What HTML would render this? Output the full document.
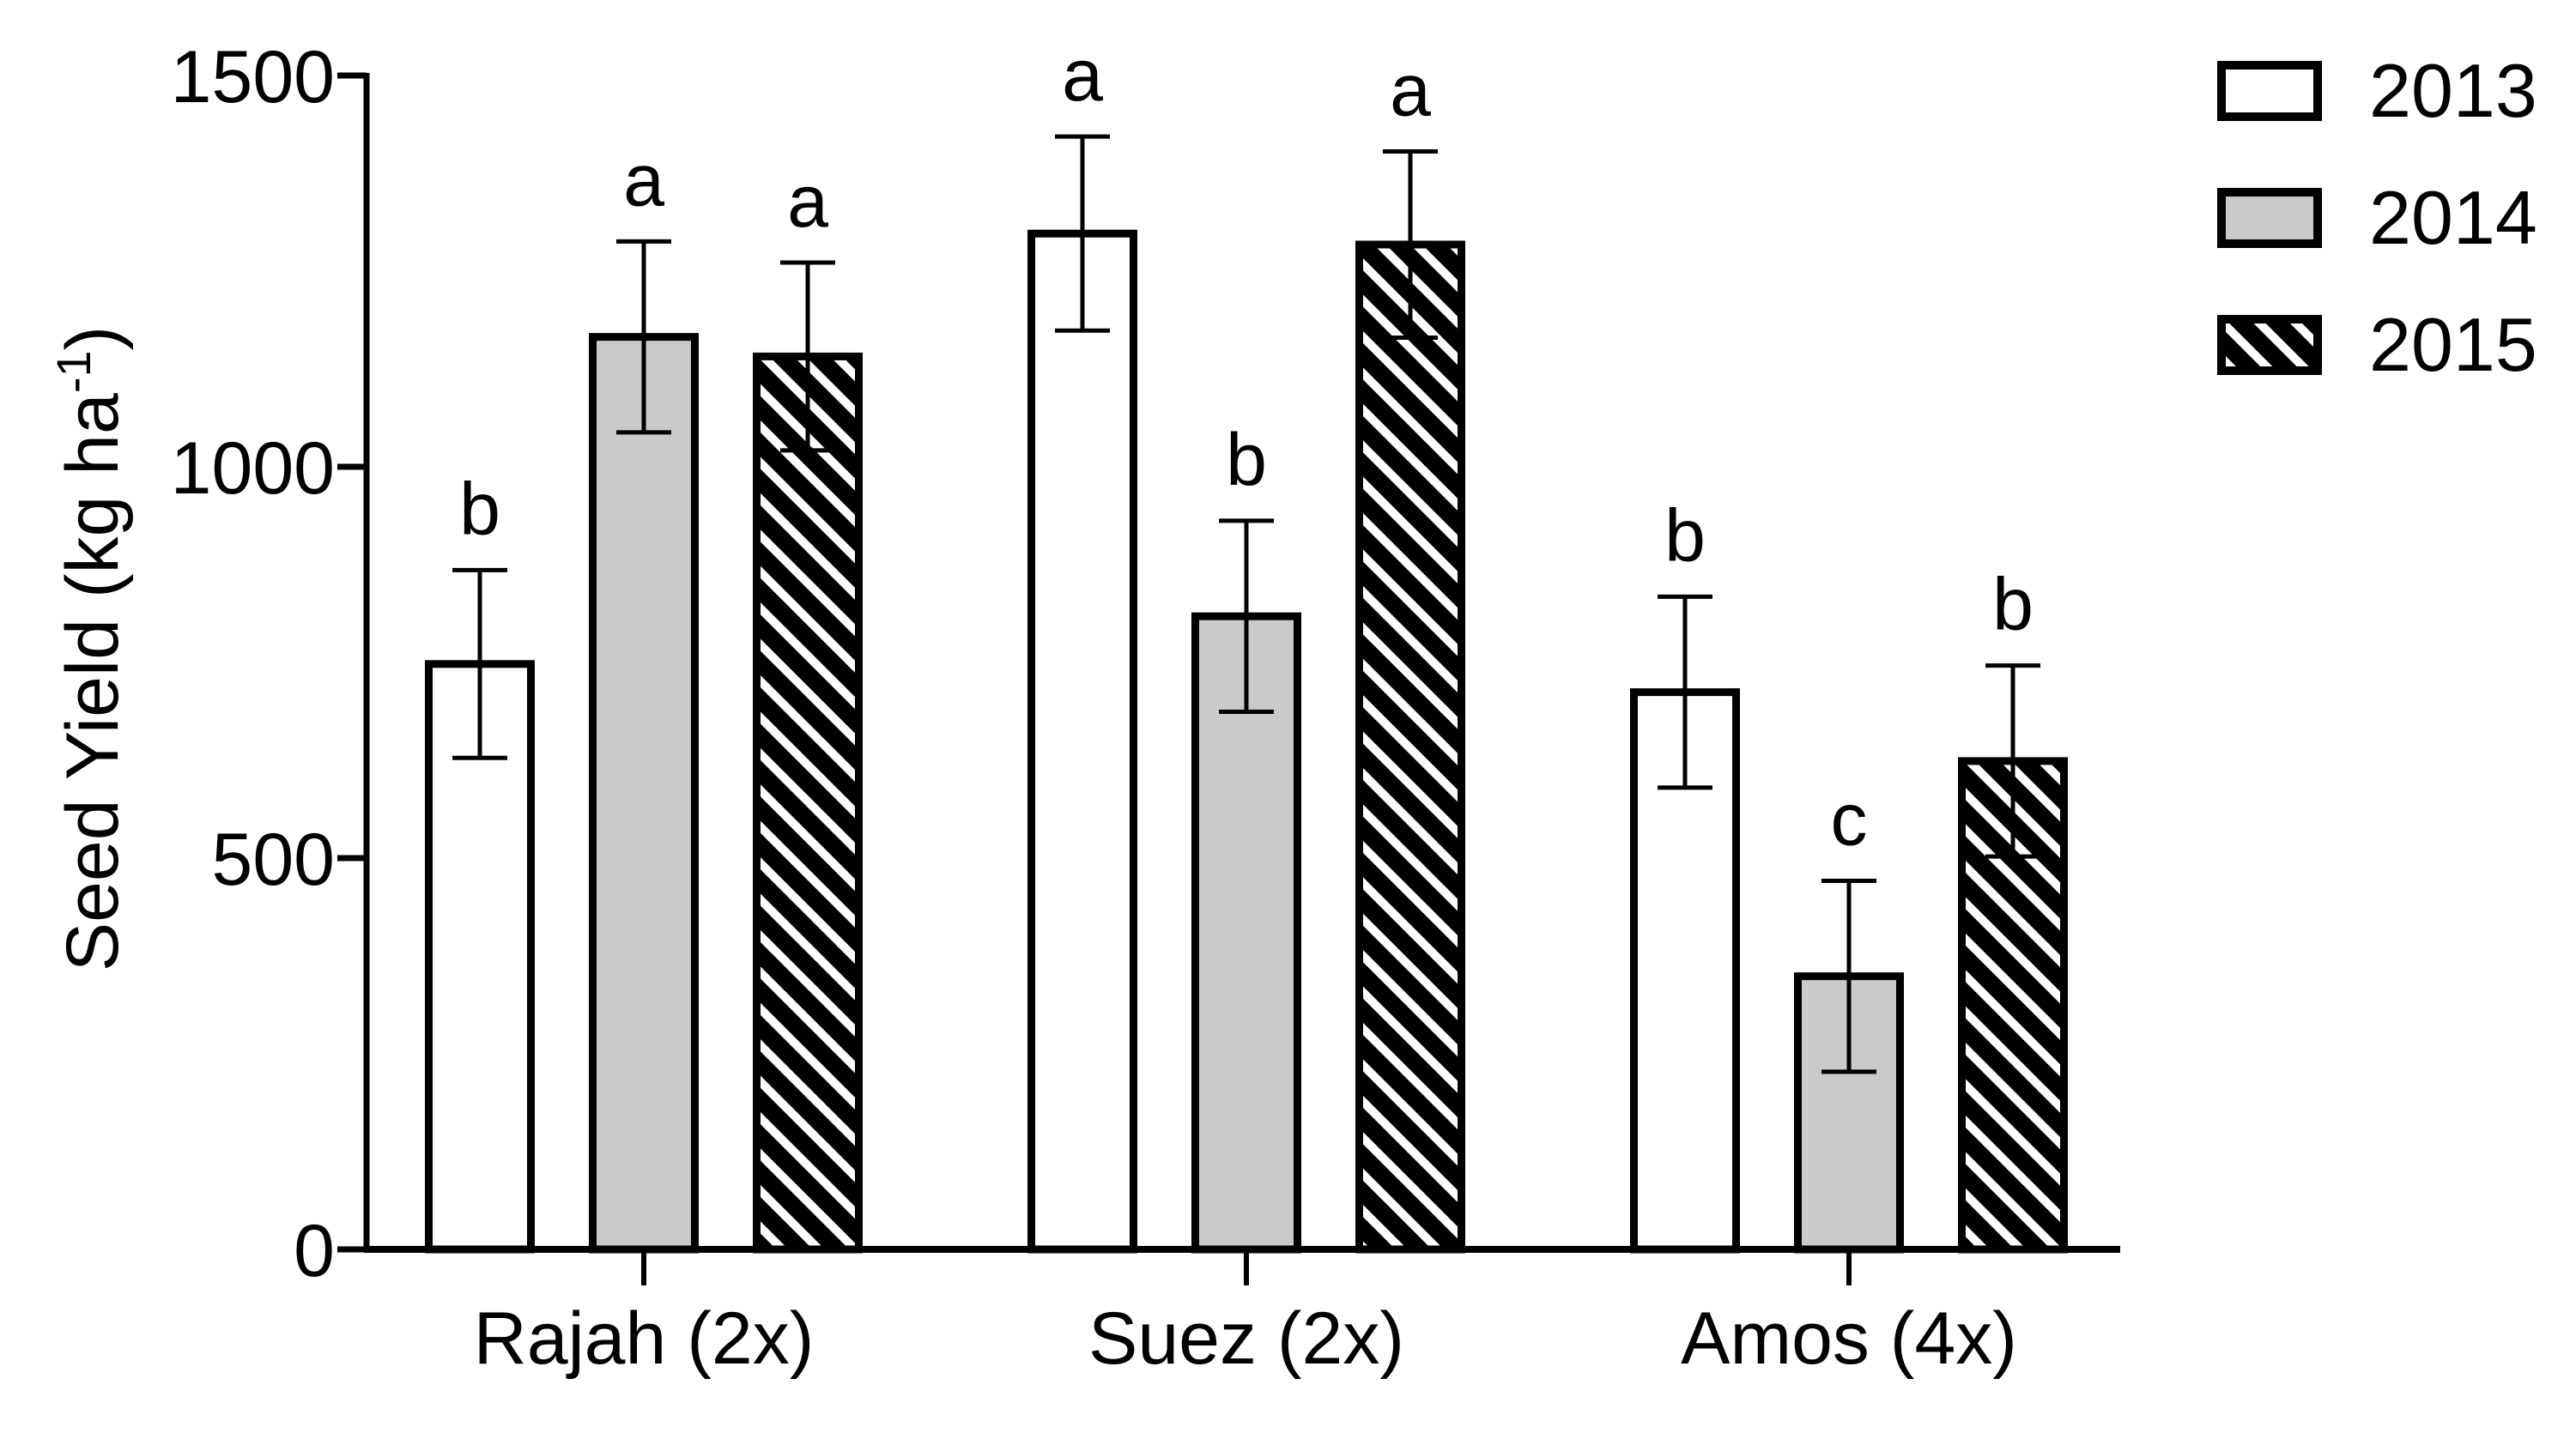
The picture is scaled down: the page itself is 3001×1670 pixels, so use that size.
<!DOCTYPE html>
<html><head><meta charset="utf-8"><style>
html,body{margin:0;padding:0;background:#fff;}
svg{display:block;font-family:"Liberation Sans",Arial,sans-serif;}
</style></head><body>
<svg id="chart" width="3001" height="1670" viewBox="0 0 3001 1670" xmlns="http://www.w3.org/2000/svg">
<defs>
<pattern id="hatch" patternUnits="userSpaceOnUse" width="30" height="30" patternTransform="rotate(-45)">
<rect width="30" height="30" fill="#000"/>
<rect x="0" y="0" width="10" height="30" fill="#fff"/>
</pattern>
</defs>
<g id="plot"></g>
<text transform="translate(137,756) rotate(-90)" text-anchor="middle" font-size="86">Seed Yield (kg ha<tspan font-size="56" dy="-32">-1</tspan><tspan dy="32">)</tspan></text>
</svg>
<script>
const categories = ["Rajah (2x)", "Suez (2x)", "Amos (4x)"];
const years = ["2013", "2014", "2015"];
const values2013 = [748, 1298, 712];
const values2014 = [1166, 809, 349];
const values2015 = [1141, 1284, 624];
const errors2013 = [120, 124, 122];
const errors2014 = [122, 122, 122];
const errors2015 = [120, 119, 122];
const letters2013 = ["b", "a", "b"];
const letters2014 = ["a", "b", "c"];
const letters2015 = ["a", "a", "b"];
const yTicks = [0, 500, 1000, 1500];

const NS = "http://www.w3.org/2000/svg";
const g = document.getElementById('plot');
const x0 = 427, xEnd = 2470, yBase = 1456, yPerUnit = 456 / 500;
function yScale(v) { return yBase - v * yPerUnit; }
const groupStart = 750, groupStep = 702;
function groupCenter(ci) { return groupStart + ci * groupStep; }
function xCenter(ci, si) { return groupCenter(ci) + (si - 1) * 191; }
const barW = 119;
const fills = ["#fff", "#c9cbc9", "url(#hatch)"];
function el(tag, attrs) { const e = document.createElementNS(NS, tag); for (const k in attrs) e.setAttribute(k, attrs[k]); g.appendChild(e); return e; }

const series = [values2013, values2014, values2015];
const errs = [errors2013, errors2014, errors2015];
const lets = [letters2013, letters2014, letters2015];

for (let si = 0; si < 3; si++) {
  for (let ci = 0; ci < 3; ci++) {
    const v = series[si][ci], e = errs[si][ci];
    const cx = xCenter(ci, si);
    const r = el('rect', {x: cx - barW/2, y: yScale(v), width: barW, height: yBase - yScale(v), fill: fills[si], stroke: '#000', 'stroke-width': 9});
    
    
    const eb = el('path', {d: `M${cx},${yScale(v+e)}V${yScale(v-e)}M${cx-32},${yScale(v+e)}H${cx+32}M${cx-32},${yScale(v-e)}H${cx+32}`, stroke: '#000', 'stroke-width': 5, fill: 'none'});
    
    
    const t = el('text', {x: cx, y: yScale(v+e) - 42, 'text-anchor': 'middle', 'font-size': 86});
    t.textContent = lets[si][ci];
    
    
  }
}
const ya = el('path', {d: `M${x0},${yScale(1500)-3}V${yBase}`, stroke: '#000', 'stroke-width': 7, fill: 'none'});


const xa = el('path', {d: `M${x0-3},${yBase}H${xEnd}`, stroke: '#000', 'stroke-width': 8, fill: 'none'});


yTicks.forEach(v => {
  const tk = el('path', {d: `M${x0-34},${yScale(v)}H${x0}`, stroke: '#000', 'stroke-width': 7});
  
  
  const tl = el('text', {x: 390, y: yScale(v) + 31, 'text-anchor': 'end', 'font-size': 86});
  tl.textContent = v;
  
  
});
categories.forEach((c, ci) => {
  const cx = groupCenter(ci);
  const tk = el('path', {d: `M${cx},${yBase}V${yBase+42}`, stroke: '#000', 'stroke-width': 6});
  
  
  const tl = el('text', {x: cx, y: 1589, 'text-anchor': 'middle', 'font-size': 86});
  tl.textContent = c;
  
  
});
const legTops = [71, 219, 367];
years.forEach((yr, si) => {
  const b = el('rect', {x: 2588, y: legTops[si] + 5, width: 112, height: 60, fill: fills[si], stroke: '#000', 'stroke-width': 10});
  
  
  const t = el('text', {x: 2760, y: legTops[si] + 65, 'font-size': 88});
  t.textContent = yr;
  
  
});
</script>
</body></html>
